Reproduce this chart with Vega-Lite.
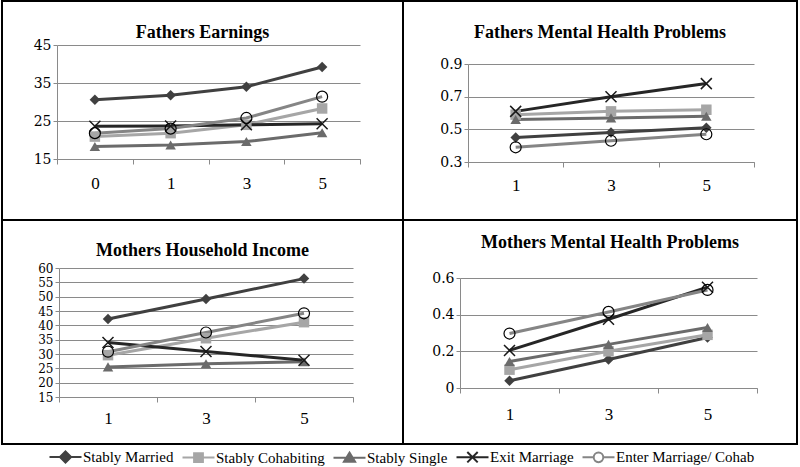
{
  "$schema": "https://vega.github.io/schema/vega-lite/v6.json",
  "background": "white",
  "padding": {"left": 1, "top": 0, "right": 0, "bottom": 0},
  "data": {"values": [
    {"p": "FE", "w": 0, "s": "Stably Married", "v": 30.6},
    {"p": "FE", "w": 1, "s": "Stably Married", "v": 31.8},
    {"p": "FE", "w": 3, "s": "Stably Married", "v": 34.0},
    {"p": "FE", "w": 5, "s": "Stably Married", "v": 39.2},
    {"p": "FE", "w": 0, "s": "Stably Cohabiting", "v": 20.9},
    {"p": "FE", "w": 1, "s": "Stably Cohabiting", "v": 21.8},
    {"p": "FE", "w": 3, "s": "Stably Cohabiting", "v": 24.0},
    {"p": "FE", "w": 5, "s": "Stably Cohabiting", "v": 28.3},
    {"p": "FE", "w": 0, "s": "Stably Single", "v": 18.3},
    {"p": "FE", "w": 1, "s": "Stably Single", "v": 18.7},
    {"p": "FE", "w": 3, "s": "Stably Single", "v": 19.6},
    {"p": "FE", "w": 5, "s": "Stably Single", "v": 21.9},
    {"p": "FE", "w": 0, "s": "Exit Marriage", "v": 23.6},
    {"p": "FE", "w": 1, "s": "Exit Marriage", "v": 23.7},
    {"p": "FE", "w": 3, "s": "Exit Marriage", "v": 24.0},
    {"p": "FE", "w": 5, "s": "Exit Marriage", "v": 24.3},
    {"p": "FE", "w": 0, "s": "Enter Marriage/ Cohab", "v": 21.8},
    {"p": "FE", "w": 1, "s": "Enter Marriage/ Cohab", "v": 23.0},
    {"p": "FE", "w": 3, "s": "Enter Marriage/ Cohab", "v": 25.8},
    {"p": "FE", "w": 5, "s": "Enter Marriage/ Cohab", "v": 31.4},
    {"p": "FM", "w": 1, "s": "Stably Married", "v": 0.45},
    {"p": "FM", "w": 3, "s": "Stably Married", "v": 0.48},
    {"p": "FM", "w": 5, "s": "Stably Married", "v": 0.51},
    {"p": "FM", "w": 1, "s": "Stably Cohabiting", "v": 0.59},
    {"p": "FM", "w": 3, "s": "Stably Cohabiting", "v": 0.61},
    {"p": "FM", "w": 5, "s": "Stably Cohabiting", "v": 0.62},
    {"p": "FM", "w": 1, "s": "Stably Single", "v": 0.56},
    {"p": "FM", "w": 3, "s": "Stably Single", "v": 0.57},
    {"p": "FM", "w": 5, "s": "Stably Single", "v": 0.58},
    {"p": "FM", "w": 1, "s": "Exit Marriage", "v": 0.61},
    {"p": "FM", "w": 3, "s": "Exit Marriage", "v": 0.70},
    {"p": "FM", "w": 5, "s": "Exit Marriage", "v": 0.78},
    {"p": "FM", "w": 1, "s": "Enter Marriage/ Cohab", "v": 0.39},
    {"p": "FM", "w": 3, "s": "Enter Marriage/ Cohab", "v": 0.43},
    {"p": "FM", "w": 5, "s": "Enter Marriage/ Cohab", "v": 0.47},
    {"p": "MI", "w": 1, "s": "Stably Married", "v": 42.2},
    {"p": "MI", "w": 3, "s": "Stably Married", "v": 49.2},
    {"p": "MI", "w": 5, "s": "Stably Married", "v": 56.3},
    {"p": "MI", "w": 1, "s": "Stably Cohabiting", "v": 29.6},
    {"p": "MI", "w": 3, "s": "Stably Cohabiting", "v": 35.5},
    {"p": "MI", "w": 5, "s": "Stably Cohabiting", "v": 41.1},
    {"p": "MI", "w": 1, "s": "Stably Single", "v": 25.5},
    {"p": "MI", "w": 3, "s": "Stably Single", "v": 26.6},
    {"p": "MI", "w": 5, "s": "Stably Single", "v": 27.3},
    {"p": "MI", "w": 1, "s": "Exit Marriage", "v": 34.0},
    {"p": "MI", "w": 3, "s": "Exit Marriage", "v": 30.9},
    {"p": "MI", "w": 5, "s": "Exit Marriage", "v": 27.8},
    {"p": "MI", "w": 1, "s": "Enter Marriage/ Cohab", "v": 30.8},
    {"p": "MI", "w": 3, "s": "Enter Marriage/ Cohab", "v": 37.5},
    {"p": "MI", "w": 5, "s": "Enter Marriage/ Cohab", "v": 44.2},
    {"p": "MM", "w": 1, "s": "Stably Married", "v": 0.04},
    {"p": "MM", "w": 3, "s": "Stably Married", "v": 0.155},
    {"p": "MM", "w": 5, "s": "Stably Married", "v": 0.275},
    {"p": "MM", "w": 1, "s": "Stably Cohabiting", "v": 0.10},
    {"p": "MM", "w": 3, "s": "Stably Cohabiting", "v": 0.20},
    {"p": "MM", "w": 5, "s": "Stably Cohabiting", "v": 0.29},
    {"p": "MM", "w": 1, "s": "Stably Single", "v": 0.145},
    {"p": "MM", "w": 3, "s": "Stably Single", "v": 0.238},
    {"p": "MM", "w": 5, "s": "Stably Single", "v": 0.33},
    {"p": "MM", "w": 1, "s": "Exit Marriage", "v": 0.205},
    {"p": "MM", "w": 3, "s": "Exit Marriage", "v": 0.375},
    {"p": "MM", "w": 5, "s": "Exit Marriage", "v": 0.55},
    {"p": "MM", "w": 1, "s": "Enter Marriage/ Cohab", "v": 0.297},
    {"p": "MM", "w": 3, "s": "Enter Marriage/ Cohab", "v": 0.415},
    {"p": "MM", "w": 5, "s": "Enter Marriage/ Cohab", "v": 0.535}
  ]},
  "columns": 2,
  "spacing": 0,
  "bounds": "flush",
  "concat": [
    {
      "width": 401, "height": 219,
      "title": {"text": "Fathers Earnings", "offset": -41},
      "transform": [{"filter": "datum.p == 'FE'"}],
      "encoding": {
        "x": {"field": "w", "type": "ordinal", "scale": {"type": "band", "range": [55, 358], "paddingInner": 0, "paddingOuter": 0}, "axis": {"title": null, "offset": -61, "labelPadding": 11}},
        "y": {"field": "v", "type": "quantitative", "scale": {"domain": [15, 45], "range": [158, 44], "zero": false, "nice": false}, "axis": {"title": null, "values": [15, 25, 35, 45], "offset": -55}}
      },
      "layer": [
        {"mark": {"type": "line", "strokeWidth": 3},
         "encoding": {"color": {"field": "s", "type": "nominal",
           "scale": {"domain": ["Stably Married", "Stably Cohabiting", "Stably Single", "Exit Marriage", "Enter Marriage/ Cohab"], "range": ["#404040", "#a6a6a6", "#6b6b6b", "#262626", "#858585"]},
           "legend": {"orient": "none", "legendX": 56, "legendY": 448, "direction": "horizontal", "title": null, "labelFont": "Liberation Serif", "labelFontSize": 15, "labelColor": "black", "symbolSize": 64, "symbolStrokeWidth": 2, "labelOffset": 10, "columnPadding": 4,
             "encode": {"symbols": {"update": {
               "shape": {"signal": "datum.value == 'Stably Married' ? 'M-4,0H4M0,-1.4L1.4,0L0,1.4L-1.4,0Z' : datum.value == 'Stably Cohabiting' ? 'M-4,0H4M-1.1,-1.1H1.1V1.1H-1.1Z' : datum.value == 'Stably Single' ? 'M-4,0H4M0,-1.3L1.4,1L-1.4,1Z' : datum.value == 'Exit Marriage' ? 'M-4,0H4M-1.3,-1.3L1.3,1.3M-1.3,1.3L1.3,-1.3' : 'M-4,0H-1.2M1.2,0H4M1.2,0A1.2,1.2,0,1,1,-1.2,0A1.2,1.2,0,1,1,1.2,0Z'"},
               "fill": {"signal": "datum.value == 'Enter Marriage/ Cohab' ? 'white' : datum.value == 'Exit Marriage' ? 'transparent' : scale('color', datum.value)"},
               "fillOpacity": {"signal": "datum.value == 'Enter Marriage/ Cohab' ? 0 : 1"},
               "stroke": {"signal": "datum.value == 'Enter Marriage/ Cohab' ? '#444444' : scale('color', datum.value)"},
               "strokeWidth": {"value": 2},
               "opacity": {"value": 1}
             }}}}}}},
        {"transform": [{"filter": "datum.s == 'Stably Married' || datum.s == 'Stably Cohabiting' || datum.s == 'Stably Single'"}],
         "mark": {"type": "point", "filled": true, "size": 110, "opacity": 1},
         "encoding": {
           "color": {"field": "s", "type": "nominal", "scale": {"domain": ["Stably Married", "Stably Cohabiting", "Stably Single", "Exit Marriage", "Enter Marriage/ Cohab"], "range": ["#404040", "#a6a6a6", "#6b6b6b", "#262626", "#858585"]}},
           "shape": {"field": "s", "type": "nominal", "scale": {"domain": ["Stably Married", "Stably Cohabiting", "Stably Single"], "range": ["diamond", "square", "triangle-up"]}, "legend": null}}},
        {"transform": [{"filter": "datum.s == 'Exit Marriage'"}],
         "mark": {"type": "point", "shape": "M-1,-1L1,1M-1,1L1,-1", "size": 121, "stroke": "#1a1a1a", "strokeWidth": 1.5, "filled": false, "opacity": 1}},
        {"transform": [{"filter": "datum.s == 'Enter Marriage/ Cohab'"}],
         "mark": {"type": "point", "shape": "circle", "size": 121, "stroke": "#000000", "strokeWidth": 1.2, "filled": false, "opacity": 1}}
      ]
    },
    {
      "width": 394, "height": 219,
      "title": {"text": "Fathers Mental Health Problems", "offset": -41},
      "transform": [{"filter": "datum.p == 'FM'"}],
      "encoding": {
        "x": {"field": "w", "type": "ordinal", "scale": {"type": "band", "range": [65, 351], "paddingInner": 0, "paddingOuter": 0}, "axis": {"title": null, "offset": -58, "labelPadding": 10}},
        "y": {"field": "v", "type": "quantitative", "scale": {"domain": [0.3, 0.9], "range": [161, 63], "zero": false, "nice": false}, "axis": {"title": null, "values": [0.3, 0.5, 0.7, 0.9], "format": ".1f", "offset": -65}}
      },
      "layer": [
        {"mark": {"type": "line", "strokeWidth": 3},
         "encoding": {"color": {"field": "s", "type": "nominal", "scale": {"domain": ["Stably Married", "Stably Cohabiting", "Stably Single", "Exit Marriage", "Enter Marriage/ Cohab"], "range": ["#404040", "#a6a6a6", "#6b6b6b", "#262626", "#858585"]}}}},
        {"transform": [{"filter": "datum.s == 'Stably Married' || datum.s == 'Stably Cohabiting' || datum.s == 'Stably Single'"}],
         "mark": {"type": "point", "filled": true, "size": 110, "opacity": 1},
         "encoding": {
           "color": {"field": "s", "type": "nominal", "scale": {"domain": ["Stably Married", "Stably Cohabiting", "Stably Single", "Exit Marriage", "Enter Marriage/ Cohab"], "range": ["#404040", "#a6a6a6", "#6b6b6b", "#262626", "#858585"]}},
           "shape": {"field": "s", "type": "nominal", "scale": {"domain": ["Stably Married", "Stably Cohabiting", "Stably Single"], "range": ["diamond", "square", "triangle-up"]}, "legend": null}}},
        {"transform": [{"filter": "datum.s == 'Exit Marriage'"}],
         "mark": {"type": "point", "shape": "M-1,-1L1,1M-1,1L1,-1", "size": 121, "stroke": "#1a1a1a", "strokeWidth": 1.5, "filled": false, "opacity": 1}},
        {"transform": [{"filter": "datum.s == 'Enter Marriage/ Cohab'"}],
         "mark": {"type": "point", "shape": "circle", "size": 121, "stroke": "#000000", "strokeWidth": 1.2, "filled": false, "opacity": 1}}
      ]
    },
    {
      "width": 401, "height": 224,
      "title": {"text": "Mothers Household Income", "offset": -40},
      "transform": [{"filter": "datum.p == 'MI'"}],
      "encoding": {
        "x": {"field": "w", "type": "ordinal", "scale": {"type": "band", "range": [57, 351], "paddingInner": 0, "paddingOuter": 0}, "axis": {"title": null, "offset": -47, "labelPadding": 8}},
        "y": {"field": "v", "type": "quantitative", "scale": {"domain": [15, 60], "range": [177, 48], "zero": false, "nice": false}, "axis": {"title": null, "values": [15, 20, 25, 30, 35, 40, 45, 50, 55, 60], "offset": -57, "labelFontSize": 12}}
      },
      "layer": [
        {"mark": {"type": "line", "strokeWidth": 3},
         "encoding": {"color": {"field": "s", "type": "nominal", "scale": {"domain": ["Stably Married", "Stably Cohabiting", "Stably Single", "Exit Marriage", "Enter Marriage/ Cohab"], "range": ["#404040", "#a6a6a6", "#6b6b6b", "#262626", "#858585"]}}}},
        {"transform": [{"filter": "datum.s == 'Stably Married' || datum.s == 'Stably Cohabiting' || datum.s == 'Stably Single'"}],
         "mark": {"type": "point", "filled": true, "size": 110, "opacity": 1},
         "encoding": {
           "color": {"field": "s", "type": "nominal", "scale": {"domain": ["Stably Married", "Stably Cohabiting", "Stably Single", "Exit Marriage", "Enter Marriage/ Cohab"], "range": ["#404040", "#a6a6a6", "#6b6b6b", "#262626", "#858585"]}},
           "shape": {"field": "s", "type": "nominal", "scale": {"domain": ["Stably Married", "Stably Cohabiting", "Stably Single"], "range": ["diamond", "square", "triangle-up"]}, "legend": null}}},
        {"transform": [{"filter": "datum.s == 'Exit Marriage'"}],
         "mark": {"type": "point", "shape": "M-1,-1L1,1M-1,1L1,-1", "size": 121, "stroke": "#1a1a1a", "strokeWidth": 1.5, "filled": false, "opacity": 1}},
        {"transform": [{"filter": "datum.s == 'Enter Marriage/ Cohab'"}],
         "mark": {"type": "point", "shape": "circle", "size": 121, "stroke": "#000000", "strokeWidth": 1.2, "filled": false, "opacity": 1}}
      ]
    },
    {
      "width": 394, "height": 224,
      "title": {"text": "Mothers Mental Health Problems", "offset": -32, "dx": 10},
      "transform": [{"filter": "datum.p == 'MM'"}],
      "encoding": {
        "x": {"field": "w", "type": "ordinal", "scale": {"type": "band", "range": [57, 354], "paddingInner": 0, "paddingOuter": 0}, "axis": {"title": null, "offset": -56, "labelPadding": 13}},
        "y": {"field": "v", "type": "quantitative", "scale": {"domain": [0, 0.6], "range": [168, 58], "zero": false, "nice": false}, "axis": {"title": null, "values": [0, 0.2, 0.4, 0.6], "format": "~g", "offset": -57}}
      },
      "layer": [
        {"mark": {"type": "line", "strokeWidth": 3},
         "encoding": {"color": {"field": "s", "type": "nominal", "scale": {"domain": ["Stably Married", "Stably Cohabiting", "Stably Single", "Exit Marriage", "Enter Marriage/ Cohab"], "range": ["#404040", "#a6a6a6", "#6b6b6b", "#262626", "#858585"]}}}},
        {"transform": [{"filter": "datum.s == 'Stably Married' || datum.s == 'Stably Cohabiting' || datum.s == 'Stably Single'"}],
         "mark": {"type": "point", "filled": true, "size": 110, "opacity": 1},
         "encoding": {
           "color": {"field": "s", "type": "nominal", "scale": {"domain": ["Stably Married", "Stably Cohabiting", "Stably Single", "Exit Marriage", "Enter Marriage/ Cohab"], "range": ["#404040", "#a6a6a6", "#6b6b6b", "#262626", "#858585"]}},
           "shape": {"field": "s", "type": "nominal", "scale": {"domain": ["Stably Married", "Stably Cohabiting", "Stably Single"], "range": ["diamond", "square", "triangle-up"]}, "legend": null}}},
        {"transform": [{"filter": "datum.s == 'Exit Marriage'"}],
         "mark": {"type": "point", "shape": "M-1,-1L1,1M-1,1L1,-1", "size": 121, "stroke": "#1a1a1a", "strokeWidth": 1.5, "filled": false, "opacity": 1}},
        {"transform": [{"filter": "datum.s == 'Enter Marriage/ Cohab'"}],
         "mark": {"type": "point", "shape": "circle", "size": 121, "stroke": "#000000", "strokeWidth": 1.2, "filled": false, "opacity": 1}}
      ]
    }
  ],
  "config": {
    "view": {"stroke": "black", "strokeWidth": 2},
    "title": {"font": "Liberation Serif", "fontSize": 18, "fontWeight": "bold", "color": "black", "anchor": "middle", "frame": "group", "baseline": "alphabetic"},
    "axis": {"domainColor": "#8a8a8a", "gridColor": "#8a8a8a", "tickColor": "#8a8a8a", "labelColor": "black", "domainWidth": 1, "gridWidth": 1, "tickWidth": 1},
    "axisX": {"labelFont": "Liberation Serif", "labelFontSize": 17, "tickSize": 5, "grid": false, "tickBand": "extent", "labelAngle": 0},
    "axisY": {"labelFont": "DejaVu Serif", "labelFontSize": 14, "tickSize": 4, "labelPadding": 2, "grid": true}
  }
}
